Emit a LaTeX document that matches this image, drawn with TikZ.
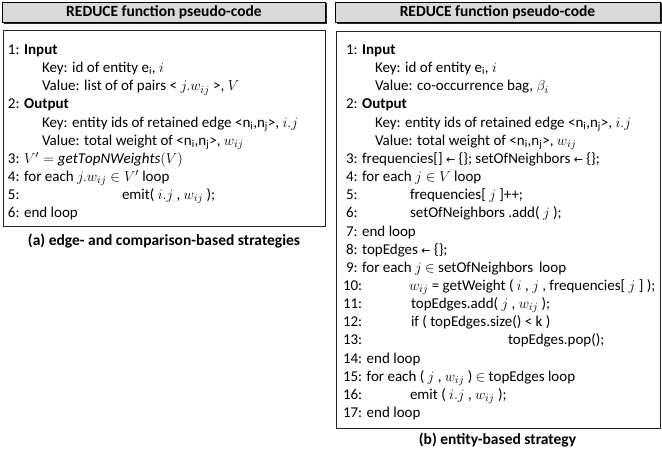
\documentclass[tikz,border=0pt]{standalone}
\usepackage{fontspec}
\setmainfont{Carlito}
\newfontfamily\arrowfont{DejaVu Sans}
\newcommand{\larr}{{\arrowfont\fontsize{11}{15}\selectfont ←}}
\begin{document}
\begin{tikzpicture}[x=1pt,y=-1pt,
  every node/.style={inner sep=0pt,outer sep=0pt,font=\fontsize{15}{18}\selectfont},
  ln/.style={anchor=base west,text height=11pt,text depth=4pt},
  hdr/.style={fill=black!15,draw=black,line width=0.9pt},
  hdrshadow/.style={fill=black!85,draw=none},
  body/.style={draw=black!85,line width=1pt},
  hdrtext/.style={font=\fontsize{15.5}{18}\selectfont\bfseries},
  captext/.style={anchor=base,font=\fontsize{15.5}{18}\selectfont\bfseries}]
\useasboundingbox (0,0) rectangle (662,455);
% ---------- left panel ----------
\fill[hdrshadow] (4.2,3.2) rectangle (327,23.5);
\draw[hdr] (2.5,2.5) rectangle (325.5,22);
\node[hdrtext] (lh) at (164,12.5) {REDUCE function pseudo-code};
\draw[body] (3,30.5) rectangle (325,226);
\def\s{18.15}
\def\yo{54.5}
\node[ln] (l1) at (8,\yo) {1: \textbf{Input}};
\node[ln] (l1a) at (42,\yo+\s) {Key: id of entity e\textsubscript{i}, $i$};
\node[ln] (l1b) at (42,\yo+2*\s) {Value: list of of pairs < $j.w_{ij}$ >, $V$};
\node[ln] (l2) at (8,\yo+3*\s) {2: \textbf{Output}};
\node[ln] (l2a) at (42,\yo+4*\s) {Key: entity ids of retained edge <n\textsubscript{i},n\textsubscript{j}>, $i.j$};
\node[ln] (l2b) at (42,\yo+5*\s) {Value: total weight of <n\textsubscript{i},n\textsubscript{j}>, $w_{ij}$};
\node[ln] (l3) at (8,\yo+6*\s) {3: $V' = \mathit{getTopNWeights}(V)$};
\node[ln] (l4) at (8,\yo+7*\s) {4: for each $j.w_{ij} \in V'$ loop};
\node[ln] (l5n) at (8,\yo+8*\s) {5:};
\node[ln] (l5) at (122,\yo+8*\s) {emit( $i.j$ , $w_{ij}$ );};
\node[ln] (l6) at (8,\yo+9*\s) {6: end loop};
\node[captext] (ca) at (164,245) {(a) edge- and comparison-based strategies};
% ---------- right panel ----------
\fill[hdrshadow] (336.7,3.2) rectangle (661.5,23.5);
\draw[hdr] (335,2.5) rectangle (660,22);
\node[hdrtext] (rh) at (497.5,12.5) {REDUCE function pseudo-code};
\draw[body] (336,31) rectangle (660,428);
\node[ln] (r1) at (346,\yo) {1: \textbf{Input}};
\node[ln] (r1a) at (375,\yo+\s) {Key: id of entity e\textsubscript{i}, $i$};
\node[ln] (r1b) at (375,\yo+2*\s) {Value: co-occurrence bag, $\beta_i$};
\node[ln] (r2) at (346,\yo+3*\s) {2: \textbf{Output}};
\node[ln] (r2a) at (375,\yo+4*\s) {Key: entity ids of retained edge <n\textsubscript{i},n\textsubscript{j}>, $i.j$};
\node[ln] (r2b) at (375,\yo+5*\s) {Value: total weight of <n\textsubscript{i},n\textsubscript{j}>, $w_{ij}$};
\node[ln] (r3) at (346,\yo+6*\s) {3: frequencies[] \larr{} \{\}; setOfNeighbors \larr{} \{\};};
\node[ln] (r4) at (346,\yo+7*\s) {4: for each $j \in V$ loop};
\node[ln] (r5n) at (346,\yo+8*\s) {5:};
\node[ln] (r5) at (410,\yo+8*\s) {frequencies[ $j$ ]++;};
\node[ln] (r6n) at (346,\yo+9*\s) {6:};
\node[ln] (r6) at (410,\yo+9*\s) {setOfNeighbors .add( $j$ );};
\node[ln] (r7) at (346,\yo+10*\s) {7: end loop};
\node[ln] (r8) at (346,\yo+11*\s) {8: topEdges \larr{} \{\};};
\node[ln] (r9) at (346,\yo+12*\s) {9: for each $j$ $\in$ setOfNeighbors\, loop};
\node[ln] (r10n) at (343,\yo+13*\s) {10:};
\node[ln] (r10) at (409,\yo+13*\s) {$w_{ij}$ = getWeight ( $i$ , $j$ , frequencies[ $j$ ] );};
\node[ln] (r11n) at (343,\yo+14*\s) {11:};
\node[ln] (r11) at (411,\yo+14*\s) {topEdges.add( $j$ , $w_{ij}$ );};
\node[ln] (r12n) at (343,\yo+15*\s) {12:};
\node[ln] (r12) at (411,\yo+15*\s) {if ( topEdges.size() < k )};
\node[ln] (r13n) at (343,\yo+16*\s) {13:};
\node[ln] (r13) at (508,\yo+16*\s) {topEdges.pop();};
\node[ln] (r14) at (343,\yo+17*\s) {14: end loop};
\node[ln] (r15) at (343,\yo+18*\s) {15: for each ( $j$ , $w_{ij}$ ) $\in$ topEdges loop};
\node[ln] (r16n) at (343,\yo+19*\s) {16:};
\node[ln] (r16) at (410,\yo+19*\s) {emit ( $i.j$ , $w_{ij}$ );};
\node[ln] (r17) at (343,\yo+20*\s) {17: end loop};
\node[captext] (cb) at (497.5,444.5) {(b) entity-based strategy};
\end{tikzpicture}
\end{document}
